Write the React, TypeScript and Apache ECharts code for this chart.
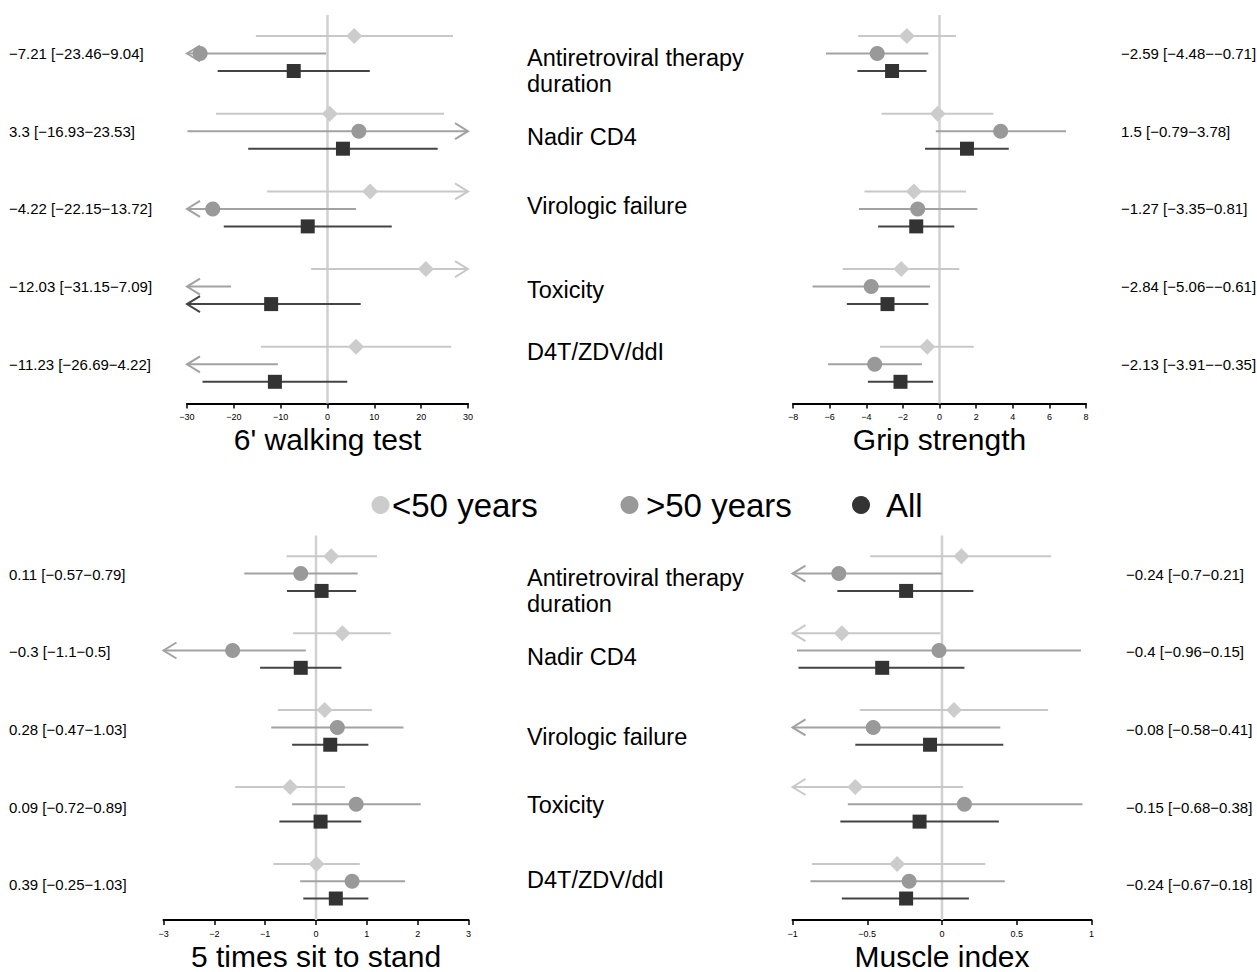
import React, { useEffect, useRef } from "react";
import * as echarts from "echarts";

// ---------- DATA ----------
const groupNames = ["Antiretroviral therapy duration", "Nadir CD4", "Virologic failure", "Toxicity", "D4T/ZDV/ddI"];
const cohortNames = ["<50 years", ">50 years", "All"];

// each row: [estimate, lower, upper]
const walkYoung = [[5.7, -15.3, 26.8], [0.5, -23.8, 24.9], [9.1, -12.9, 31.1], [21.0, -3.5, 45.5], [6.1, -14.2, 26.4]];
const walkOld = [[-27.2, -54, -0.3], [6.7, -29.9, 43.3], [-24.5, -55, 6.1], [-48, -76, -20.6], [-38, -66, -10.6]];
const walkAll = [[-7.21, -23.46, 9.04], [3.3, -16.93, 23.53], [-4.22, -22.15, 13.72], [-12.03, -31.15, 7.09], [-11.23, -26.69, 4.22]];

const gripYoung = [[-1.78, -4.44, 0.9], [-0.1, -3.16, 2.94], [-1.4, -4.1, 1.45], [-2.09, -5.29, 1.08], [-0.67, -3.25, 1.87]];
const gripOld = [[-3.4, -6.2, -0.61], [3.34, -0.2, 6.91], [-1.19, -4.4, 2.07], [-3.73, -6.93, -0.52], [-3.54, -6.09, -0.96]];
const gripAll = [[-2.59, -4.48, -0.71], [1.5, -0.79, 3.78], [-1.27, -3.35, 0.81], [-2.84, -5.06, -0.61], [-2.13, -3.91, -0.35]];

const sitYoung = [[0.3, -0.58, 1.2], [0.52, -0.45, 1.47], [0.17, -0.75, 1.1], [-0.51, -1.59, 0.57], [0.01, -0.84, 0.86]];
const sitOld = [[-0.3, -1.41, 0.82], [-1.64, -3.08, -0.2], [0.42, -0.88, 1.72], [0.79, -0.47, 2.06], [0.71, -0.31, 1.75]];
const sitAll = [[0.11, -0.57, 0.79], [-0.3, -1.1, 0.5], [0.28, -0.47, 1.03], [0.09, -0.72, 0.89], [0.39, -0.25, 1.03]];

const muscleYoung = [[0.13, -0.48, 0.73], [-0.67, -1.33, -0.01], [0.08, -0.55, 0.71], [-0.58, -1.3, 0.14], [-0.3, -0.87, 0.29]];
const muscleOld = [[-0.69, -1.38, 0.0], [-0.02, -0.97, 0.93], [-0.46, -1.31, 0.39], [0.15, -0.63, 0.94], [-0.22, -0.88, 0.42]];
const muscleAll = [[-0.24, -0.7, 0.21], [-0.4, -0.96, 0.15], [-0.08, -0.58, 0.41], [-0.15, -0.68, 0.38], [-0.24, -0.67, 0.18]];

const panelTitles = ["6' walking test", "Grip strength", "5 times sit to stand", "Muscle index"];
const axisMins = [-30, -8, -3, -1];
const axisMaxs = [30, 8, 3, 1];
const axisSteps = [10, 2, 1, 0.5];

// ---------- STYLE / LAYOUT ----------
const FONT = "'Liberation Sans', Arial, Helvetica, sans-serif";
const lineColors = ["#c8c8c8", "#a2a2a2", "#444444"];
const markColors = ["#cccccc", "#999999", "#333333"];
const symbols = ["diamond", "circle", "rect"];
const symbolSizes: any[] = [[16, 16], 15, 14];
const Y_MIN = -1.2;
const Y_MAX = 21;
const GROUP_STEP = 4.44;
const GRID_H = 388.5;
const grids = [
  { left: 187, top: 15, width: 281, height: GRID_H },
  { left: 793, top: 15, width: 293, height: GRID_H },
  { left: 163.5, top: 535.5, width: 305, height: GRID_H },
  { left: 792.5, top: 535.5, width: 299, height: GRID_H },
];

const minus = (s: string) => s.replace(/-/g, "\u2212");
const rowVal = (g: number, s: number) => g * GROUP_STEP + s;
const rowPx = (top: number, g: number, s: number) => top + (rowVal(g, s) - Y_MIN) * (GRID_H / (Y_MAX - Y_MIN));

export default function App() {
  const ref = useRef<HTMLDivElement>(null);
  useEffect(() => {
    document.body.style.margin = "0";
    const chart = echarts.init(ref.current!, undefined, { renderer: "svg" });
    const panels = [
      [walkYoung, walkOld, walkAll],
      [gripYoung, gripOld, gripAll],
      [sitYoung, sitOld, sitAll],
      [muscleYoung, muscleOld, muscleAll],
    ];

    const xAxis: any[] = [];
    const yAxis: any[] = [];
    const series: any[] = [];
    const graphic: any[] = [];

    panels.forEach((cohorts, p) => {
      const xmin = axisMins[p];
      const xmax = axisMaxs[p];
      xAxis.push({
        gridIndex: p,
        type: "value",
        min: xmin,
        max: xmax,
        interval: axisSteps[p],
        axisLine: { show: true, onZero: false, lineStyle: { color: "#000", width: 2 } },
        axisTick: { show: true, length: 5, lineStyle: { color: "#000", width: 1.5 } },
        axisLabel: {
          fontSize: 9,
          color: "#000",
          margin: 9,
          fontFamily: FONT,
          showMinLabel: true,
          showMaxLabel: true,
          formatter: (v: number) => minus(String(v)),
        },
        splitLine: { show: false },
        name: panelTitles[p],
        nameLocation: "middle",
        nameGap: 21,
        nameTextStyle: { fontSize: 30, color: "#000", fontFamily: FONT },
      });
      yAxis.push({ gridIndex: p, type: "value", inverse: true, min: Y_MIN, max: Y_MAX, show: false });

      // zero reference line
      series.push({
        type: "line",
        xAxisIndex: p,
        yAxisIndex: p,
        data: [[0, Y_MIN], [0, Y_MAX]],
        symbol: "none",
        silent: true,
        z: 1,
        lineStyle: { color: "#d0d0d0", width: 2.5 },
      });

      cohorts.forEach((rows, c) => {
        const color = lineColors[c];
        series.push({
          type: "custom",
          name: cohortNames[c],
          xAxisIndex: p,
          yAxisIndex: p,
          z: 2 + c,
          silent: true,
          encode: { x: [0, 1], y: 3 },
          data: rows.map((r, g) => [r[1], r[2], r[0], rowVal(g, c)]),
          renderItem: (_params: any, api: any) => {
            const lo = api.value(0);
            const hi = api.value(1);
            const y = api.value(3);
            const a = api.coord([Math.max(lo, xmin), y]);
            const b = api.coord([Math.min(hi, xmax), y]);
            const st = { stroke: color, lineWidth: 2, fill: "none" };
            const children: any[] = [
              { type: "line", shape: { x1: a[0], y1: a[1], x2: b[0], y2: b[1] }, style: st },
            ];
            if (lo < xmin) {
              children.push({
                type: "polyline",
                shape: { points: [[a[0] + 13, a[1] - 8], [a[0], a[1]], [a[0] + 13, a[1] + 8]] },
                style: st,
              });
            }
            if (hi > xmax) {
              children.push({
                type: "polyline",
                shape: { points: [[b[0] - 13, b[1] - 8], [b[0], b[1]], [b[0] - 13, b[1] + 8]] },
                style: st,
              });
            }
            return { type: "group", children };
          },
        });
        series.push({
          type: "scatter",
          name: cohortNames[c] + " est",
          xAxisIndex: p,
          yAxisIndex: p,
          z: 10 + c,
          silent: true,
          symbol: symbols[c],
          symbolSize: symbolSizes[c],
          itemStyle: { color: markColors[c], opacity: 1 },
          data: rows
            .map((r, g) => [r[0], rowVal(g, c)])
            .filter((d) => d[0] >= xmin && d[0] <= xmax),
        });
      });

      // annotations of overall estimate
      const all = cohorts[2];
      const isLeft = p === 0 || p === 2;
      const top = grids[p].top;
      const ax = isLeft ? 9 : p === 1 ? 1121 : 1126;
      all.forEach((r, g) => {
        graphic.push({
          type: "text",
          x: ax,
          y: rowPx(top, g, 1),
          style: {
            text: minus(`${r[0]} [${r[1]}-${r[2]}]`),
            font: `15px ${FONT}`,
            fill: "#000",
            align: "left",
            verticalAlign: "middle",
          },
        });
      });
    });

    // centre group labels
    const centerTop = [
      ["Antiretroviral therapy", 58],
      ["duration", 84],
      [groupNames[1], 137],
      [groupNames[2], 206],
      [groupNames[3], 290],
      [groupNames[4], 352],
    ];
    const centerBottom = [
      ["Antiretroviral therapy", 578],
      ["duration", 604],
      [groupNames[1], 657],
      [groupNames[2], 737],
      [groupNames[3], 805],
      [groupNames[4], 880],
    ];
    [...centerTop, ...centerBottom].forEach(([t, y]) => {
      graphic.push({
        type: "text",
        x: 527,
        y: y as number,
        style: { text: t as string, font: `23.5px ${FONT}`, fill: "#000", align: "left", verticalAlign: "middle" },
      });
    });

    // legend
    const legendCircleX = [380.5, 629.5, 861];
    const legendTextX = [392, 646, 886];
    cohortNames.forEach((n, c) => {
      graphic.push({
        type: "circle",
        shape: { cx: legendCircleX[c], cy: 505, r: 9 },
        style: { fill: markColors[c] },
      });
      graphic.push({
        type: "text",
        x: legendTextX[c],
        y: 505,
        style: { text: n, font: `33px ${FONT}`, fill: "#000", align: "left", verticalAlign: "middle" },
      });
    });

    chart.setOption({
      animation: false,
      backgroundColor: "#ffffff",
      textStyle: { fontFamily: FONT },
      grid: grids.map((g) => ({ ...g, containLabel: false })),
      xAxis,
      yAxis,
      series,
      graphic,
    });
    return () => chart.dispose();
  }, []);
  return <div ref={ref} style={{ width: 1257, height: 972 }} />;
}
